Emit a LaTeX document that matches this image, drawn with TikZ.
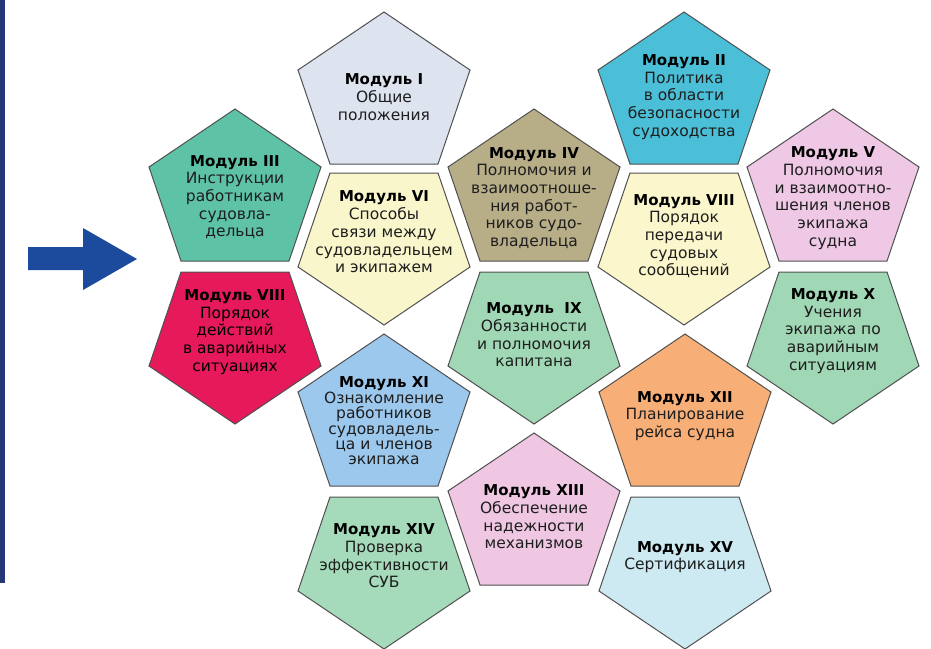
\documentclass[tikz,border=0pt]{standalone}
\usepackage{fontspec}
\setmainfont{DejaVu Sans}
\definecolor{edgec}{HTML}{505050}
\definecolor{txtc}{HTML}{1E1E1E}
\definecolor{barc}{HTML}{263777}
\definecolor{arrc}{HTML}{1C4B9E}
\definecolor{cI}{HTML}{DDE4F0}
\definecolor{cII}{HTML}{4CBFD8}
\definecolor{cIII}{HTML}{5DC2A6}
\definecolor{cIV}{HTML}{B7AE88}
\definecolor{cV}{HTML}{EEC8E5}
\definecolor{cVI}{HTML}{FAF6CB}
\definecolor{cVIIIy}{HTML}{FBF6CC}
\definecolor{cVIIIr}{HTML}{E6195B}
\definecolor{cIX}{HTML}{A0D8B6}
\definecolor{cX}{HTML}{A0D8B6}
\definecolor{cXI}{HTML}{9DC8EE}
\definecolor{cXII}{HTML}{F7AF77}
\definecolor{cXIII}{HTML}{EFC7E3}
\definecolor{cXIV}{HTML}{A5DBBA}
\definecolor{cXV}{HTML}{CDEAF2}
\newcommand\modhead[1]{{\bfseries\color{black}\fontsize{15}{17.7}\selectfont #1}}
\newcommand\pentup[3]{\filldraw[pent,fill=#3] (#1,#2) -- ({#1+86},{#2+58}) -- ({#1+54},{#2+152}) -- ({#1-54},{#2+152}) -- ({#1-86},{#2+58}) -- cycle;}
\newcommand\pentdown[3]{\filldraw[pent,fill=#3] ({#1-54},#2) -- ({#1+54},#2) -- ({#1+86},{#2+94}) -- (#1,{#2+152}) -- ({#1-86},{#2+94}) -- cycle;}
\tikzset{
  pent/.style={draw=edgec, line width=1pt, line join=miter},
  lbl/.style={align=center, inner sep=0pt, text=txtc, font=\fontsize{15.5}{17.7}\selectfont},
  lbltight/.style={lbl, font=\fontsize{15.5}{15.4}\selectfont}
}
\begin{document}
\begin{tikzpicture}[x=1pt,y=-1pt]
\useasboundingbox[fill=white] (0,0) rectangle (931,648);
% left bar and arrow
\fill[barc] (0,0) rectangle (5,583);
\fill[arrc] (28,247) -- (83,247) -- (83,228) -- (137,259) -- (83,290) -- (83,270) -- (28,270) -- cycle;
% pentagons
\pentup{235}{109}{cIII}
\pentdown{235}{272}{cVIIIr}
\pentup{384}{12}{cI}
\pentdown{384}{173}{cVI}
\pentup{384}{334}{cXI}
\pentdown{384}{497}{cXIV}
\pentup{534}{109}{cIV}
\pentdown{534}{272}{cIX}
\pentup{534}{433}{cXIII}
\pentup{684}{12}{cII}
\pentdown{684}{173}{cVIIIy}
\pentup{685}{334}{cXII}
\pentdown{685}{497}{cXV}
\pentup{833}{109}{cV}
\pentdown{833}{272}{cX}
% labels
\node[lbl] (m1) at (384,97) {\modhead{Модуль I}\\Общие\\положения};
\node[lbl] (m2) at (684,97) {\modhead{Модуль II}\\Политика\\в области\\безопасности\\судоходства};
\node[lbl] (m3) at (235,197) {\modhead{Модуль III}\\Инструкции\\работникам\\судовла-\\дельца};
\node[lbl] (m4) at (534,198) {\modhead{Модуль IV}\\Полномочия и\\взаимоотноше-\\ния работ-\\ников судо-\\владельца};
\node[lbl] (m5) at (833,198) {\modhead{Модуль V}\\Полномочия\\и взаимоотно-\\шения членов\\экипажа\\судна};
\node[lbl] (m6) at (384,232) {\modhead{Модуль VI}\\Способы\\связи между\\судовладельцем\\и экипажем};
\node[lbl] (m8y) at (684,236) {\modhead{Модуль VIII}\\Порядок\\передачи\\судовых\\сообщений};
\node[lbl,text=black] (m8r) at (235,332) {\modhead{Модуль VIII}\\Порядок\\действий\\в аварийных\\ситуациях};
\node[lbl] (m9) at (534,335) {\modhead{Модуль\ \ IX}\\Обязанности\\и полномочия\\капитана};
\node[lbl] (m10) at (833,331) {\modhead{Модуль X}\\Учения\\экипажа по\\аварийным\\ситуациям};
\node[lbltight] (m11) at (384,421) {\modhead{Модуль XI}\\Ознакомление\\работников\\судовладель-\\ца и членов\\экипажа};
\node[lbl] (m12) at (685,416) {\modhead{Модуль XII}\\Планирование\\рейса судна};
\node[lbl] (m13) at (534,517) {\modhead{Модуль XIII}\\Обеспечение\\надежности\\механизмов};
\node[lbl] (m14) at (384,556) {\modhead{Модуль XIV}\\Проверка\\эффективности\\СУБ};
\node[lbl] (m15) at (685,557) {\modhead{Модуль XV}\\Сертификация};
\end{tikzpicture}
\end{document}
